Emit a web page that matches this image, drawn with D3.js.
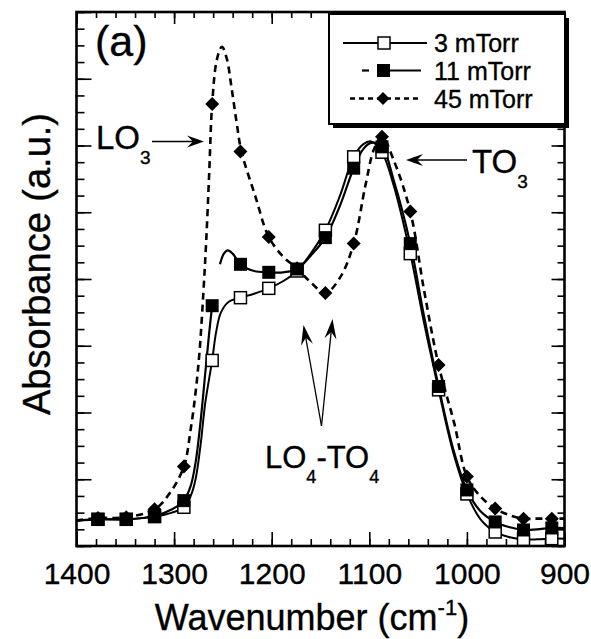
<!DOCTYPE html>
<html><head><meta charset="utf-8">
<script src="https://cdn.jsdelivr.net/npm/d3@7"></script>
<style>
body{margin:0;background:#fff}
svg{display:block}
text{font-family:"Liberation Sans",Arial,Helvetica,sans-serif;fill:#000;stroke:#000;stroke-width:0.35px}
</style>
</head><body>
<svg id="chart" width="591" height="639"></svg>
<script>
// ---------- DATA ----------
const seriesLabels = ["3 mTorr", "11 mTorr", "45 mTorr"];
const markerWavenumbers = [1378,1349,1320,1290,1261,1232,1203,1174,1145,1116,1087,1058,1029,1000,971,942,913];
const open3     = [0.40,0.40,0.44,0.58,2.78,3.72,3.86,4.12,4.73,5.83,5.90,4.38,2.34,0.78,0.21,0.10,0.11];
const filled11  = [0.40,0.40,0.45,0.68,3.60,4.22,4.10,4.15,4.62,5.66,5.98,4.53,2.39,0.84,0.36,0.24,0.27];
const diamond45 = [0.42,0.43,0.55,1.19,6.62,5.91,4.63,4.16,3.79,4.53,6.13,5.01,2.71,1.04,0.56,0.41,0.41];

// traced curves [wavenumber, absorbance]; null = gap in the drawn line
const curve3 = [[1400,0.38],[1378,0.40],[1349,0.40],[1320,0.44],[1302,0.50],[1290,0.58],[1283,0.75],[1278,1.00],[1273,1.50],[1268,2.15],[1261,2.78],[1257,3.20],[1252,3.50],[1244,3.66],[1232,3.72],[1218,3.78],[1203,3.86],[1188,3.97],[1174,4.12],[1160,4.38],[1145,4.73],[1130,5.25],[1116,5.83],[1106,6.02],[1098,6.06],[1087,5.90],[1075,5.40],[1058,4.38],[1044,3.35],[1029,2.34],[1014,1.40],[1000,0.78],[986,0.40],[971,0.21],[956,0.13],[942,0.10],[928,0.10],[913,0.11],[900,0.11]];
const curve11 = [[1400,0.38],[1378,0.40],[1349,0.40],[1320,0.45],[1302,0.55],[1290,0.68],[1283,0.90],[1278,1.25],[1273,1.85],[1268,2.60],[1264,3.20],[1261,3.60],null,[1253,4.22],[1249,4.38],[1245,4.43],[1240,4.38],[1232,4.22],[1218,4.12],[1203,4.10],[1188,4.10],[1174,4.15],[1160,4.35],[1145,4.62],[1130,5.10],[1116,5.66],[1106,5.95],[1098,6.04],[1087,5.98],[1075,5.48],[1058,4.53],[1044,3.45],[1029,2.39],[1014,1.45],[1000,0.84],[986,0.52],[971,0.36],[956,0.28],[942,0.24],[928,0.25],[913,0.27],[900,0.27]];
const curve45 = [[1400,0.38],[1378,0.42],[1349,0.43],[1320,0.55],[1305,0.78],[1290,1.19],[1283,1.75],[1278,2.30],[1274,2.90],[1270,3.80],[1267,4.60],[1264,5.60],[1261,6.62],[1256,7.30],[1251,7.48],[1246,7.30],[1241,6.85],[1236,6.35],[1231,5.91],[1217,5.25],[1203,4.63],[1188,4.33],[1174,4.16],[1160,3.95],[1145,3.79],[1130,4.02],[1116,4.53],[1104,5.40],[1095,5.95],[1087,6.13],[1075,5.78],[1058,5.01],[1044,3.84],[1029,2.71],[1013,1.84],[1000,1.04],[986,0.74],[971,0.56],[956,0.46],[942,0.41],[928,0.41],[913,0.41],[900,0.41]];

const xMajorTicks = [1400,1300,1200,1100,1000,900];
const xMinorTicks = d3.range(1400, 899, -20);
const yMajorTicks = d3.range(0, 8.01, 1);
const yMinorTicks = d3.range(0, 8.01, 0.25);

// ---------- LAYOUT ----------
const svg = d3.select("#chart");
const L = 76.5, R = 564.5, T = 12, B = 546;
const x = d3.scaleLinear().domain([1400, 900]).range([L, R]);
const y = d3.scaleLinear().domain([0, 8]).range([B, T]);

svg.append("rect").attr("width",591).attr("height",639).attr("fill","#fff");

svg.append("defs").append("clipPath").attr("id","plotclip")
  .append("rect").attr("x",L).attr("y",T).attr("width",R-L).attr("height",B-T);

function styleAxis(g){ g.select(".domain").remove(); g.selectAll(".tick line").attr("stroke","#000").attr("stroke-width",1.6); }

// bottom axis
svg.append("g").attr("transform",`translate(0,${B})`)
  .call(d3.axisBottom(x).tickValues(xMinorTicks).tickSize(-7).tickFormat(""))
  .call(styleAxis);
const bx = svg.append("g").attr("transform",`translate(0,${B})`)
  .call(d3.axisBottom(x).tickValues(xMajorTicks).tickSize(-14).tickPadding(17).tickFormat(d3.format("d")))
  .call(styleAxis);
bx.selectAll("text").attr("font-size",30).attr("font-family",'"Liberation Sans",Arial,sans-serif').attr("fill","#000");
// top axis
svg.append("g").attr("transform",`translate(0,${T})`)
  .call(d3.axisTop(x).tickValues(xMinorTicks).tickSize(-6).tickFormat("")).call(styleAxis);
svg.append("g").attr("transform",`translate(0,${T})`)
  .call(d3.axisTop(x).tickValues(xMajorTicks).tickSize(-12).tickFormat("")).call(styleAxis);
// left axis
svg.append("g").attr("transform",`translate(${L},0)`)
  .call(d3.axisLeft(y).tickValues(yMinorTicks).tickSize(-8).tickFormat("")).call(styleAxis);
svg.append("g").attr("transform",`translate(${L},0)`)
  .call(d3.axisLeft(y).tickValues(yMajorTicks).tickSize(-15).tickFormat("")).call(styleAxis);
// right axis
svg.append("g").attr("transform",`translate(${R},0)`)
  .call(d3.axisRight(y).tickValues(yMinorTicks).tickSize(-7).tickFormat("")).call(styleAxis);
svg.append("g").attr("transform",`translate(${R},0)`)
  .call(d3.axisRight(y).tickValues(yMajorTicks).tickSize(-13).tickFormat("")).call(styleAxis);

// frame
svg.append("rect").attr("x",L).attr("y",T).attr("width",R-L).attr("height",B-T)
  .attr("fill","none").attr("stroke","#000").attr("stroke-width",2.6);

// ---------- CURVES ----------
const line = d3.line().defined(d => d != null)
  .x(d => x(d[0])).y(d => y(d[1])).curve(d3.curveCatmullRom.alpha(0.5));
const plot = svg.append("g").attr("clip-path","url(#plotclip)");
plot.append("path").datum(curve3).attr("d",line).attr("fill","none").attr("stroke","#000").attr("stroke-width",2);
plot.append("path").datum(curve11).attr("d",line).attr("fill","none").attr("stroke","#000").attr("stroke-width",2.2);
plot.append("path").datum(curve45).attr("d",line).attr("fill","none").attr("stroke","#000").attr("stroke-width",2.6).attr("stroke-dasharray","7,5");

// ---------- MARKERS ----------
const pts3 = markerWavenumbers.map((w,i)=>[w,open3[i]]);
const pts11 = markerWavenumbers.map((w,i)=>[w,filled11[i]]);
const pts45 = markerWavenumbers.map((w,i)=>[w,diamond45[i]]);
const diamondPath = r => `M0,${-r}L${r},0L0,${r}L${-r},0Z`;

plot.selectAll(".m3").data(pts3).join("rect").attr("class","m3")
  .attr("x",d=>x(d[0])-6).attr("y",d=>y(d[1])-6).attr("width",12).attr("height",12)
  .attr("fill","#fff").attr("stroke","#000").attr("stroke-width",1.5);
plot.selectAll(".m11").data(pts11).join("rect").attr("class","m11")
  .attr("x",d=>x(d[0])-6.5).attr("y",d=>y(d[1])-6.5).attr("width",13).attr("height",13)
  .attr("fill","#000");
plot.selectAll(".m45").data(pts45).join("path").attr("class","m45")
  .attr("transform",d=>`translate(${x(d[0])},${y(d[1])})`).attr("d",diamondPath(7)).attr("fill","#000");

// ---------- LEGEND ----------
const lg = svg.append("g");
lg.append("rect").attr("x",333).attr("y",18).attr("width",236).attr("height",110).attr("fill","#000");
lg.append("rect").attr("x",329).attr("y",14).attr("width",236).attr("height",110).attr("fill","#fff").attr("stroke","#000").attr("stroke-width",2);
const rows = [43,70.5,98.5];
// 3 mTorr
lg.append("line").attr("x1",343).attr("x2",427).attr("y1",rows[0]).attr("y2",rows[0]).attr("stroke","#000").attr("stroke-width",2);
lg.append("rect").attr("x",378).attr("y",rows[0]-6).attr("width",12).attr("height",12).attr("fill","#fff").attr("stroke","#000").attr("stroke-width",1.5);
// 11 mTorr
lg.append("line").attr("x1",362).attr("x2",369).attr("y1",rows[1]).attr("y2",rows[1]).attr("stroke","#000").attr("stroke-width",2.2);
lg.append("line").attr("x1",377).attr("x2",421).attr("y1",rows[1]).attr("y2",rows[1]).attr("stroke","#000").attr("stroke-width",2.2);
lg.append("rect").attr("x",377).attr("y",rows[1]-6.5).attr("width",13).attr("height",13).attr("fill","#000");
// 45 mTorr
lg.append("line").attr("x1",350).attr("x2",418).attr("y1",rows[2]).attr("y2",rows[2]).attr("stroke","#000").attr("stroke-width",2.4).attr("stroke-dasharray","5,4");
lg.append("path").attr("transform",`translate(383,${rows[2]})`).attr("d",diamondPath(6.5)).attr("fill","#000");
seriesLabels.forEach((s,i)=>{
  lg.append("text").attr("x",434).attr("y",rows[i]+9).attr("font-size",25).text(s);
});

// ---------- ANNOTATIONS ----------
svg.append("text").attr("x",95).attr("y",56).attr("font-size",43).text("(a)");

function arrow(x1,y1,x2,y2,len,hw){
  const a = Math.atan2(y2-y1,x2-x1);
  const ca=Math.cos(a), sa=Math.sin(a);
  svg.append("line").attr("x1",x1).attr("y1",y1).attr("x2",x2-ca*len*0.6).attr("y2",y2-sa*len*0.6)
    .attr("stroke","#000").attr("stroke-width",1.3);
  const bx1 = x2-ca*len, by1 = y2-sa*len;
  const p = [[x2,y2],[bx1 - sa*hw, by1 + ca*hw],[x2-ca*len*0.65, y2-sa*len*0.65],[bx1 + sa*hw, by1 - ca*hw]];
  svg.append("path").attr("d","M"+p.map(q=>q.join(",")).join("L")+"Z").attr("fill","#000");
}
function subLabel(x0, y0, parts, big, small){
  const t = svg.append("text").attr("x",x0).attr("y",y0).attr("font-size",big);
  let shifted = false;
  parts.forEach(p=>{
    if (p.sub){ t.append("tspan").attr("font-size",small).attr("dy", shifted?0:15).text(p.s); shifted = true; }
    else { t.append("tspan").attr("dy", shifted?-15:0).text(p.s); shifted = false; }
  });
}
// LO3
subLabel(96,149,[{s:"LO"},{s:"3",sub:true}],33,19);
arrow(152,141.5,204,141.5,17,6);
// TO3
subLabel(472,173,[{s:"TO"},{s:"3",sub:true}],33,19);
arrow(467,160,406,160,17,6);
// LO4-TO4
subLabel(265,468,[{s:"LO"},{s:"4",sub:true},{s:"-TO"},{s:"4",sub:true}],31,18);
arrow(321.5,426,303.5,325,20,6);
arrow(321.5,426,332.5,319,20,6);

// ---------- AXIS TITLES ----------
const xt = svg.append("text").attr("x",312).attr("y",630).attr("text-anchor","middle").attr("font-size",36);
xt.append("tspan").text("Wavenumber (cm");
xt.append("tspan").attr("font-size",22).attr("dy",-15).text("-1");
xt.append("tspan").attr("dy",15).text(")");
svg.append("text").attr("transform","translate(50,264) rotate(-90)").attr("text-anchor","middle")
  .attr("font-size",38).text("Absorbance (a.u.)");
</script>
</body></html>
